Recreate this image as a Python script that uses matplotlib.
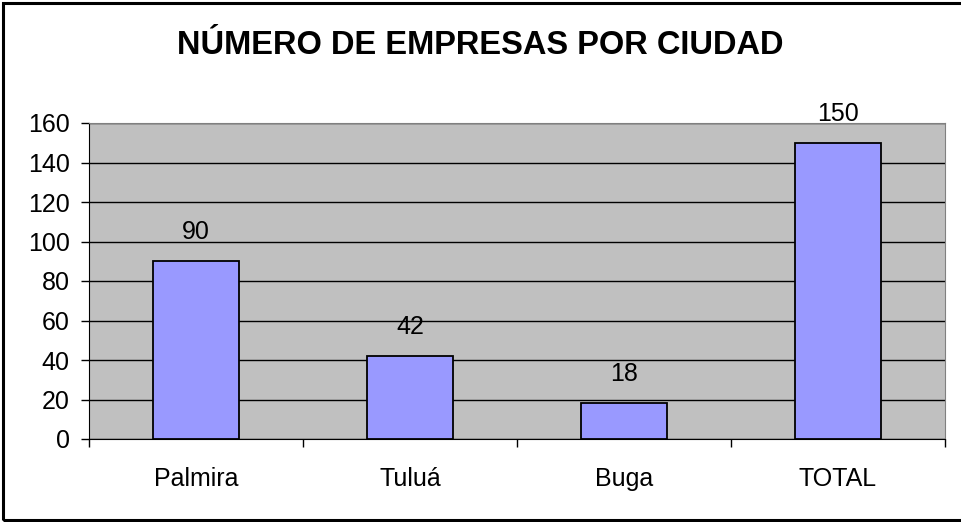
import matplotlib.pyplot as plt
from matplotlib.patches import Rectangle
import numpy as np

ciudades = ['Palmira', 'Tuluá', 'Buga', 'TOTAL']
empresas = [90, 42, 18, 150]
y_ticks = [0, 20, 40, 60, 80, 100, 120, 140, 160]

plt.rcParams['font.family'] = ['Liberation Sans', 'DejaVu Sans']

W, H = 961, 522
fig = plt.figure(figsize=(W / 100, H / 100), dpi=100)

# marco exterior del grafico
fig.patches.append(Rectangle((3 / W, 2 / H), 1.1, (H - 5) / H, transform=fig.transFigure,
                             fill=False, edgecolor='black', linewidth=2.2))

ax = fig.add_axes([89 / W, (H - 439) / H, (945 - 89) / W, (439 - 123) / H])
ax.set_facecolor('#C0C0C0')

x = np.arange(len(ciudades))
ax.bar(x, empresas, width=0.4, color='#9999FF', edgecolor='black', linewidth=1.3, zorder=3)

for xi, v in zip(x, empresas):
    ax.annotate(str(v), (xi, v), xytext=(0, 21), textcoords='offset points',
                ha='center', va='center', fontsize=18)

ax.set_xlim(-0.5, len(ciudades) - 0.5)
ax.set_ylim(0, 160)
ax.set_yticks(y_ticks)
ax.yaxis.grid(True, color='black', linewidth=1, zorder=1)
ax.set_axisbelow(True)

ax.set_xticks(x)
ax.set_xticklabels(ciudades, fontsize=18)
ax.tick_params(axis='x', length=0, pad=20)
ax.set_xticks(np.arange(len(ciudades) + 1) - 0.5, minor=True)
ax.tick_params(axis='x', which='minor', length=6, width=1, direction='out')
ax.tick_params(axis='y', labelsize=18, length=6, width=1, direction='out', pad=8)

for s in ['top', 'right']:
    ax.spines[s].set_color('#808080')
for s in ['left', 'bottom']:
    ax.spines[s].set_color('black')

fig.text(480 / W, 1 - 45 / H, 'NÚMERO DE EMPRESAS POR CIUDAD', ha='center', va='center',
         fontsize=23.5, fontweight='bold')

fig.savefig('out.png', dpi=100, facecolor='white')
